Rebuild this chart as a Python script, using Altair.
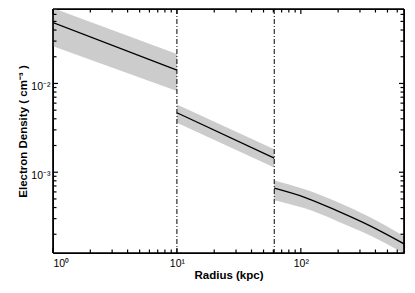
import altair as alt
import pandas as pd

# ---- data ----
seg1_r = [1, 10]
seg1_n = [0.0484, 0.01416]
seg1_lo = [0.0262, 0.0082]
seg1_hi = [0.0706, 0.0215]

seg2_r = [10, 61]
seg2_n = [0.00468, 0.00144]
seg2_lo = [0.00362, 0.00113]
seg2_hi = [0.00580, 0.00181]

seg3_r = [61, 106, 195, 359, 680]
seg3_n = [6.61e-4, 5.25e-4, 3.69e-4, 2.50e-4, 1.56e-4]
seg3_lo = [4.84e-4, 3.94e-4, 2.83e-4, 1.95e-4, 1.22e-4]
seg3_hi = [8.06e-4, 6.45e-4, 4.65e-4, 3.13e-4, 1.90e-4]

boundaries = [10, 61]

x_domain = [1, 680]
y_domain = [1.23e-4, 0.069]

x_major = [1, 10, 100]
x_major_labels = ["10\u2070", "10\u00b9", "10\u00b2"]
x_minor = [2, 3, 4, 5, 6, 7, 8, 9, 20, 30, 40, 50, 60, 70, 80, 90, 200, 300, 400, 500, 600]

y_major = [0.001, 0.01]
y_major_labels = ["10\u207b\u00b3", "10\u207b\u00b2"]
y_minor = [2e-4, 3e-4, 4e-4, 5e-4, 6e-4, 7e-4, 8e-4, 9e-4,
           2e-3, 3e-3, 4e-3, 5e-3, 6e-3, 7e-3, 8e-3, 9e-3,
           2e-2, 3e-2, 4e-2, 5e-2, 6e-2]

x_title = "Radius (kpc)"
y_title = "Electron Density ( cm\u207b\u00b3 )"

# ---- build tables ----
rows = []
for seg, (rs, ns, los, his) in enumerate([
        (seg1_r, seg1_n, seg1_lo, seg1_hi),
        (seg2_r, seg2_n, seg2_lo, seg2_hi),
        (seg3_r, seg3_n, seg3_lo, seg3_hi)]):
    for r, n, lo, hi in zip(rs, ns, los, his):
        rows.append({"seg": seg, "r": r, "n": n, "lo": lo, "hi": hi})
df = pd.DataFrame(rows)

W, H = 351, 244
FONT = "Liberation Sans"


def label_expr(vals, labels):
    expr = "''"
    for v, l in zip(vals, labels):
        expr = f"abs(datum.value - {v}) < {v}*0.01 ? '{l}' : " + expr
    return expr


xscale = alt.Scale(type="log", domain=x_domain, nice=False)
yscale = alt.Scale(type="log", domain=y_domain, nice=False)

xaxis = alt.Axis(values=x_major, labelExpr=label_expr(x_major, x_major_labels),
                 ticks=False, tickSize=0, grid=False, domain=False,
                 labelFont=FONT, labelFontSize=10.5, labelColor="black",
                 labelBaseline="alphabetic", labelPadding=13,
                 title=x_title, titleFont=FONT, titleFontSize=11.5,
                 titleFontWeight="bold", titleColor="black",
                 titleBaseline="alphabetic", titleY=25)
yaxis = alt.Axis(values=y_major, labelExpr=label_expr(y_major, y_major_labels),
                 ticks=False, tickSize=0, grid=False, domain=False,
                 labelFont=FONT, labelFontSize=10.5, labelColor="black",
                 labelBaseline="alphabetic", labelPadding=3, labelOffset=6,
                 title=y_title, titleFont=FONT, titleFontSize=11.5,
                 titleFontWeight="bold", titleColor="black",
                 titleBaseline="alphabetic", titleX=-27, titleY=H / 2)

base = alt.Chart(df)

band = base.mark_area(color="#cccccc", clip=True, interpolate="monotone").encode(
    x=alt.X("r:Q", scale=xscale, axis=xaxis),
    y=alt.Y("lo:Q", scale=yscale, axis=yaxis),
    y2="hi:Q",
    detail="seg:N",
)

line = base.mark_line(color="black", strokeWidth=1.3, clip=True, interpolate="monotone").encode(
    x="r:Q", y="n:Q", detail="seg:N"
)

bdf = pd.DataFrame({"b": boundaries})
vlines = alt.Chart(bdf).mark_rule(color="black", strokeWidth=1, strokeDash=[5, 2, 1, 2]).encode(
    x="b:Q", y=alt.value(0), y2=alt.value(H)
)

# frame drawn as four rules
frame = [
    alt.Chart(bdf).mark_rule(color="black", strokeWidth=1.2).encode(
        x=alt.value(0), x2=alt.value(W), y=alt.value(0)),
    alt.Chart(bdf).mark_rule(color="black", strokeWidth=1.2).encode(
        x=alt.value(0), x2=alt.value(W), y=alt.value(H)),
    alt.Chart(bdf).mark_rule(color="black", strokeWidth=1.2).encode(
        y=alt.value(0), y2=alt.value(H), x=alt.value(0)),
    alt.Chart(bdf).mark_rule(color="black", strokeWidth=1.2).encode(
        y=alt.value(0), y2=alt.value(H), x=alt.value(W)),
]

xmaj = pd.DataFrame({"v": x_major})
xmin = pd.DataFrame({"v": x_minor})
ymaj = pd.DataFrame({"v": y_major})
ymin = pd.DataFrame({"v": y_minor})

MAJ, MIN = 5, 3.5
TW = 1.2
tick_layers = []
for d, L in [(xmaj, MAJ), (xmin, MIN)]:
    tick_layers.append(alt.Chart(d).mark_rule(color="black", strokeWidth=TW).encode(
        x="v:Q", y=alt.value(H), y2=alt.value(H - L)))
    tick_layers.append(alt.Chart(d).mark_rule(color="black", strokeWidth=TW).encode(
        x="v:Q", y=alt.value(0), y2=alt.value(L)))
for d, L in [(ymaj, MAJ), (ymin, MIN)]:
    tick_layers.append(alt.Chart(d).mark_rule(color="black", strokeWidth=TW).encode(
        y="v:Q", x=alt.value(0), x2=alt.value(L)))
    tick_layers.append(alt.Chart(d).mark_rule(color="black", strokeWidth=TW).encode(
        y="v:Q", x=alt.value(W), x2=alt.value(W - L)))

chart = alt.layer(band, line, vlines, *frame, *tick_layers).properties(
    width=W, height=H,
    background="white",
    autosize=alt.AutoSizeParams(type="none"),
    padding={"left": 45, "top": 1, "right": 2, "bottom": 29},
).configure_view(stroke="black", strokeWidth=1)

chart.save("out.html", embed_options={"renderer": "svg", "actions": False})
